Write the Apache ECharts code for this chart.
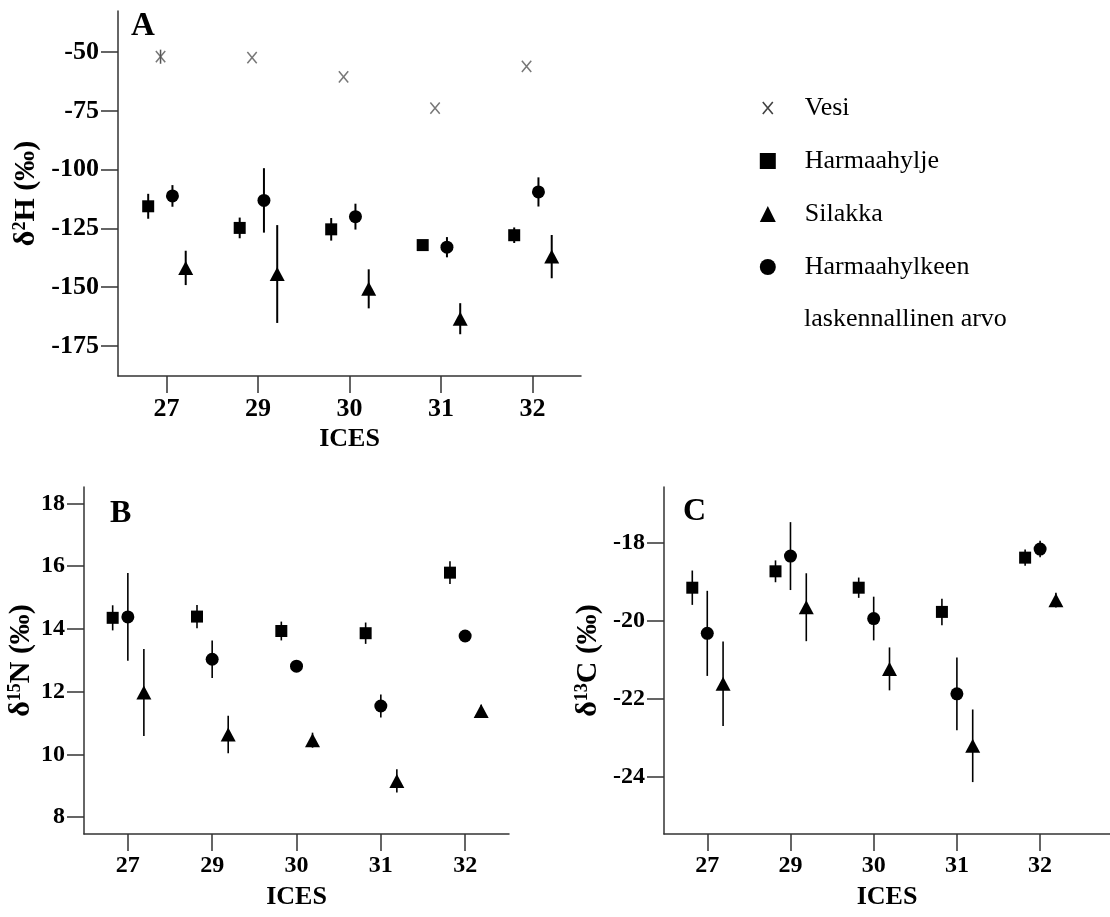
<!DOCTYPE html>
<html>
<head>
<meta charset="utf-8">
<script src="https://cdn.jsdelivr.net/npm/echarts@6/dist/echarts.min.js"></script>
<style>
html,body{margin:0;padding:0;background:#fff;}
#chart{width:1110px;height:917px;}
</style>
</head>
<body>
<div id="chart"></div>
<script>
// ---- data ----
const categories = ['27', '29', '30', '31', '32'];
const yTicksA = [-175, -150, -125, -100, -75, -50];
const yTicksB = [8, 10, 12, 14, 16, 18];
const yTicksC = [-24, -22, -20, -18];

// Panel A: delta 2H
const vesiA = [-52.0, -52.4, -60.6, -73.9, -56.1];
const vesiAErr = [3.0, 0, 0, 0, 0];
const harmaaA = [-115.6, -124.8, -125.4, -132.1, -127.9];
const harmaaAErr = [5.3, 4.4, 4.8, 2.0, 3.3];
const silakkaA = [-141.8, -144.4, -150.7, -163.4, -137.0];
const silakkaAErr = [7.3, 20.8, 8.3, 6.6, 9.2];
const laskA = [-111.2, -113.1, -120.0, -133.0, -109.5];
const laskAErr = [4.6, 13.7, 5.5, 4.3, 6.2];

// Panel B: delta 15N
const harmaaB = [14.35, 14.39, 13.93, 13.86, 15.79];
const harmaaBErr = [0.40, 0.37, 0.30, 0.34, 0.36];
const laskB = [14.38, 13.03, 12.81, 11.54, 13.77];
const laskBErr = [1.40, 0.60, 0.18, 0.37, 0.10];
const silakkaB = [11.97, 10.63, 10.45, 9.15, 11.38];
const silakkaBErr = [1.39, 0.60, 0.24, 0.37, 0.20];

// Panel C: delta 13C
const harmaaC = [-19.15, -18.73, -19.15, -19.77, -18.38];
const harmaaCErr = [0.44, 0.28, 0.26, 0.34, 0.21];
const laskC = [-20.32, -18.34, -19.94, -21.87, -18.16];
const laskCErr = [1.09, 0.87, 0.56, 0.93, 0.21];
const silakkaC = [-21.61, -19.65, -21.23, -23.20, -19.47];
const silakkaCErr = [1.08, 0.87, 0.55, 0.93, 0.19];

// ---- style / layout ----
const FONT = "'Liberation Serif', 'Times New Roman', serif";
const AX = '#333';
const catIdx = categories.map((c, i) => i);

function pts(vals, off) { return vals.map((v, i) => [i + off, v]); }
function bars(vals, errs, off) {
  return vals.map((v, i) => [i + off, v - errs[i], v + errs[i]]).filter((d, i) => errs[i] > 0);
}

const chart = echarts.init(document.getElementById('chart'), null, {renderer: 'canvas'});

function xAxisDef(grid, min, max, fs) {
  return {
    type: 'value', gridIndex: grid, min: min, max: max,
    name: 'ICES', nameLocation: 'middle', nameGap: 50,
    nameTextStyle: {fontFamily: FONT, fontWeight: 'bold', fontSize: 26, color: '#000'},
    axisLine: {show: true, onZero: false, lineStyle: {color: AX, width: 1.5}},
    axisTick: {show: true, length: 17, lineStyle: {color: AX, width: 1.5}, customValues: catIdx},
    axisLabel: {show: true, margin: 20, customValues: catIdx,
      formatter: v => categories[Math.round(v)] || '',
      fontFamily: FONT, fontWeight: 'bold', fontSize: fs, color: '#000'},
    splitLine: {show: false}
  };
}
function yAxisDef(grid, min, max, ticks, nameRich, gap, fs) {
  return {
    type: 'value', gridIndex: grid, min: min, max: max,
    name: nameRich, nameLocation: 'middle', nameGap: gap, nameRotate: 90,
    nameTextStyle: {fontFamily: FONT, fontWeight: 'bold', fontSize: 30, color: '#000',
      rich: {
        b: {fontFamily: FONT, fontWeight: 'bold', fontSize: 30, color: '#000'},
        s: {fontFamily: FONT, fontWeight: 'bold', fontSize: 18, color: '#000', verticalAlign: 'top', padding: [0, 0, 12, 0]}
      }},
    axisLine: {show: true, onZero: false, lineStyle: {color: AX, width: 1.5}},
    axisTick: {show: true, length: 17, lineStyle: {color: AX, width: 1.5}, customValues: ticks},
    axisLabel: {show: true, margin: 19, customValues: ticks,
      fontFamily: FONT, fontWeight: 'bold', fontSize: fs, color: '#000'},
    splitLine: {show: false}
  };
}

const VESI_PATH = 'path://M-3,-2M13,14M0,0L10,12M10,0L0,12';

function scatter(name, grid, data, symbol, size, extra) {
  return Object.assign({
    type: 'scatter', name: name, xAxisIndex: grid, yAxisIndex: grid,
    data: data, symbol: symbol, symbolSize: size,
    itemStyle: {color: '#000', opacity: 1}, z: 3,
    emphasis: {disabled: true}, silent: true, animation: false
  }, extra || {});
}
function errSeries(name, grid, data, color, width) {
  return {
    type: 'custom', name: name, xAxisIndex: grid, yAxisIndex: grid,
    data: data, encode: {x: 0, y: [1, 2]}, z: 2, silent: true, animation: false,
    renderItem: function (params, api) {
      const a = api.coord([api.value(0), api.value(1)]);
      const b = api.coord([api.value(0), api.value(2)]);
      return {type: 'line', shape: {x1: a[0], y1: a[1], x2: b[0], y2: b[1]},
        style: {stroke: color, lineWidth: width}};
    }
  };
}

// horizontal offsets within each ICES group
const OA = {sq: -0.2, ve: -0.065, ci: 0.065, tr: 0.21};
const OB = {sq: -0.18, ci: 0, tr: 0.19};

const SQ = 12, CI = 13, TR = [15, 14];

const series = [
  // Panel A
  errSeries('Vesi err', 0, bars(vesiA, vesiAErr, OA.ve), '#555', 1.5),
  errSeries('Harmaahylje err', 0, bars(harmaaA, harmaaAErr, OA.sq), '#000', 2),
  errSeries('Silakka err', 0, bars(silakkaA, silakkaAErr, OA.tr), '#000', 2),
  errSeries('Harmaahylkeen err', 0, bars(laskA, laskAErr, OA.ci), '#000', 2),
  scatter('Vesi', 0, pts(vesiA, OA.ve), VESI_PATH, 15,
    {itemStyle: {color: 'transparent', borderColor: '#555', borderWidth: 1.5}}),
  scatter('Harmaahylje', 0, pts(harmaaA, OA.sq), 'rect', SQ),
  scatter('Silakka', 0, pts(silakkaA, OA.tr), 'triangle', TR),
  scatter('Harmaahylkeen', 0, pts(laskA, OA.ci), 'circle', CI),
  // Panel B
  errSeries('Harmaahylje err', 1, bars(harmaaB, harmaaBErr, OB.sq), '#000', 1.6),
  errSeries('Silakka err', 1, bars(silakkaB, silakkaBErr, OB.tr), '#000', 1.6),
  errSeries('Harmaahylkeen err', 1, bars(laskB, laskBErr, OB.ci), '#000', 1.6),
  scatter('Harmaahylje', 1, pts(harmaaB, OB.sq), 'rect', SQ),
  scatter('Silakka', 1, pts(silakkaB, OB.tr), 'triangle', TR),
  scatter('Harmaahylkeen', 1, pts(laskB, OB.ci), 'circle', CI),
  // Panel C
  errSeries('Harmaahylje err', 2, bars(harmaaC, harmaaCErr, OB.sq), '#000', 1.6),
  errSeries('Silakka err', 2, bars(silakkaC, silakkaCErr, OB.tr), '#000', 1.6),
  errSeries('Harmaahylkeen err', 2, bars(laskC, laskCErr, OB.ci), '#000', 1.6),
  scatter('Harmaahylje', 2, pts(harmaaC, OB.sq), 'rect', SQ),
  scatter('Silakka', 2, pts(silakkaC, OB.tr), 'triangle', TR),
  scatter('Harmaahylkeen', 2, pts(laskC, OB.ci), 'circle', CI)
];

const option = {
  backgroundColor: '#fff',
  animation: false,
  textStyle: {fontFamily: FONT},
  title: [
    {text: 'A', left: 131, top: 10, textStyle: {fontFamily: FONT, fontWeight: 'bold', fontSize: 33, color: '#000'}, padding: 0},
    {text: 'B', left: 110, top: 498, textStyle: {fontFamily: FONT, fontWeight: 'bold', fontSize: 32, color: '#000'}, padding: 0},
    {text: 'C', left: 683, top: 496, textStyle: {fontFamily: FONT, fontWeight: 'bold', fontSize: 32, color: '#000'}, padding: 0}
  ],
  legend: {
    orient: 'vertical', left: 759, top: 95, itemWidth: 16, itemHeight: 16, itemGap: 27,
    selectedMode: false, padding: 0,
    formatter: name => '{t|' + name + '}',
    textStyle: {fontFamily: FONT, fontSize: 26, color: '#000',
      rich: {t: {fontFamily: FONT, fontSize: 26, color: '#000', lineHeight: 30, padding: [0, 0, 0, 24]}}},
    data: [
      {name: 'Vesi', icon: VESI_PATH, itemStyle: {color: 'transparent', borderColor: '#111', borderWidth: 1.6}},
      {name: 'Harmaahylje', icon: 'rect'},
      {name: 'Silakka', icon: 'triangle'},
      {name: 'Harmaahylkeen', icon: 'circle'}
    ]
  },
  graphic: [
    {type: 'text', left: 804, top: 306, style: {text: 'laskennallinen arvo', font: '26px ' + FONT, fill: '#000'}}
  ],
  grid: [
    {left: 118, top: 11, width: 463, height: 365, outerBoundsMode: 'none'},
    {left: 84, top: 487, width: 425, height: 347, outerBoundsMode: 'none'},
    {left: 664, top: 487, width: 446, height: 347, outerBoundsMode: 'none'}
  ],
  xAxis: [
    xAxisDef(0, -0.53, 4.53, 26),
    xAxisDef(1, -0.52, 4.52, 24),
    xAxisDef(2, -0.52, 4.84, 24)
  ],
  yAxis: [
    yAxisDef(0, -187.76, -32.57, yTicksA, '{b|δ}{s|2}{b|H (‰)}', 77, 26),
    yAxisDef(1, 7.46, 18.52, yTicksB, '{b|δ}{s|15}{b|N (‰)}', 48, 24),
    yAxisDef(2, -25.46, -16.57, yTicksC, '{b|δ}{s|13}{b|C (‰)}', 61, 24)
  ],
  series: series
};
chart.setOption(option);
</script>
</body>
</html>
